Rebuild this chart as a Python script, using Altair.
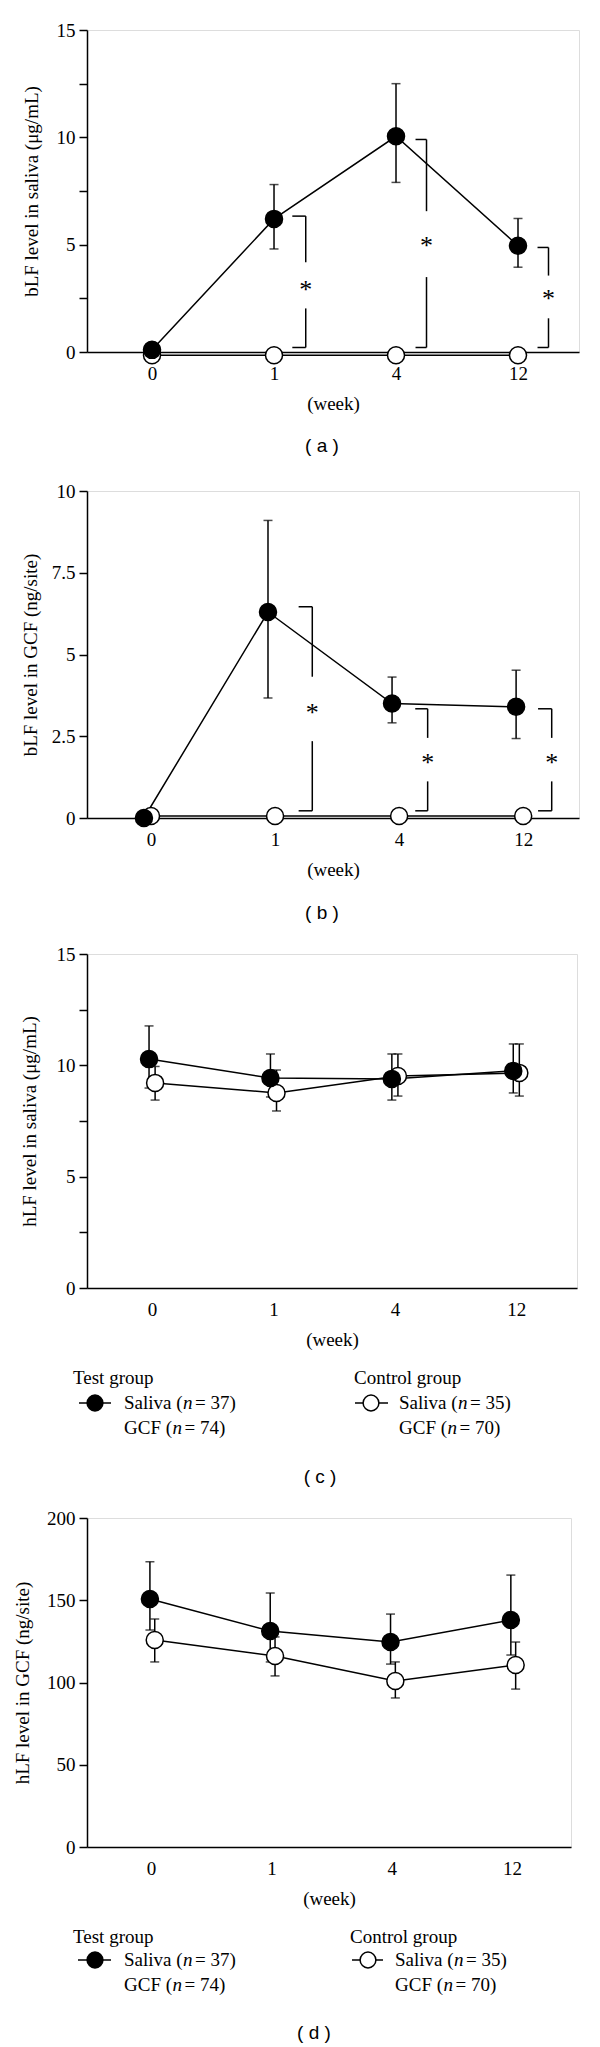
import altair as alt
import pandas as pd

# ---------------- data ----------------
weeks = ["0", "1", "4", "12"]
week_idx = [0, 1, 2, 3]

# (a) bLF level in saliva
a_test_mean = [0.1, 6.2, 10.05, 4.95]
a_test_hi = [0.1, 7.8, 12.5, 6.22]
a_test_lo = [0.1, 4.8, 7.9, 3.95]
a_ctrl_mean = [-0.15, -0.15, -0.15, -0.15]
a_ctrl_hi = [-0.15, -0.15, -0.15, -0.15]
a_ctrl_lo = [-0.15, -0.15, -0.15, -0.15]
a_br_x1 = [1.15, 2.16, 3.16]
a_br_x2 = [1.26, 2.25, 3.25]
a_br_top = [6.33, 9.9, 4.87]
a_br_bot = [0.21, 0.21, 0.21]
a_br_gap_hi = [4.18, 6.56, 3.56]
a_br_gap_lo = [2.03, 3.49, 1.57]
a_br_star = [3.10, 5.17, 2.72]

# (b) bLF level in GCF
b_test_mean = [0.0, 6.3, 3.5, 3.4]
b_test_hi = [0.0, 9.1, 4.31, 4.52]
b_test_lo = [0.0, 3.67, 2.91, 2.43]
b_ctrl_mean = [0.06, 0.06, 0.06, 0.06]
b_ctrl_hi = [0.06, 0.06, 0.06, 0.06]
b_ctrl_lo = [0.06, 0.06, 0.06, 0.06]
b_br_x1 = [1.19, 2.13, 3.12]
b_br_x2 = [1.30, 2.23, 3.23]
b_br_top = [6.46, 3.34, 3.34]
b_br_bot = [0.22, 0.22, 0.22]
b_br_gap_hi = [4.32, 2.45, 2.45]
b_br_gap_lo = [2.35, 1.12, 1.12]
b_br_star = [3.37, 1.84, 1.84]

# (c) hLF level in saliva
c_test_mean = [10.28, 9.43, 9.39, 9.75]
c_test_hi = [11.77, 10.51, 10.51, 10.96]
c_test_lo = [8.98, 8.58, 8.44, 8.76]
c_ctrl_mean = [9.21, 8.76, 9.52, 9.66]
c_ctrl_hi = [9.95, 9.79, 10.51, 10.96]
c_ctrl_lo = [8.44, 7.95, 8.62, 8.62]

# (d) hLF level in GCF
d_test_mean = [150.8, 131.3, 124.6, 138.0]
d_test_hi = [173.4, 154.4, 141.6, 165.3]
d_test_lo = [131.9, 112.5, 111.2, 116.7]
d_ctrl_mean = [125.8, 116.1, 100.9, 110.6]
d_ctrl_hi = [138.6, 127.7, 112.5, 124.6]
d_ctrl_lo = [112.5, 104.0, 90.6, 96.0]

legend_test_title = "Test group"
legend_ctrl_title = "Control group"
legend_test_lines = [("Saliva (", "n", "\u00a0=\u00a037)"), ("GCF (", "n", "\u00a0=\u00a074)")]
legend_ctrl_lines = [("Saliva (", "n", "\u00a0=\u00a035)"), ("GCF (", "n", "\u00a0=\u00a070)")]

# ---------------- style ----------------
SERIF = "Liberation Serif"
SANS = "Liberation Sans"
FS = 19
LW = 1.5
PT = 290

panels_cfg = {
    "a": dict(test=(a_test_mean, a_test_hi, a_test_lo), ctrl=(a_ctrl_mean, a_ctrl_hi, a_ctrl_lo),
              br=(a_br_x1, a_br_x2, a_br_top, a_br_bot, a_br_gap_hi, a_br_gap_lo, a_br_star),
              width=492, height=322, xdom=[-0.533, 3.5], ydom=[0, 15],
              yvals=[0, 2.5, 5, 7.5, 10, 12.5, 15], only5=True,
              title="bLF level in saliva (μg/mL)", tpad=15, toff=0.0, coff=0.0,
              caption="( a )", cap_x=235, cap_y=94, spacer=98, legend=False),
    "b": dict(test=(b_test_mean, b_test_hi, b_test_lo), ctrl=(b_ctrl_mean, b_ctrl_hi, b_ctrl_lo),
              br=(b_br_x1, b_br_x2, b_br_top, b_br_bot, b_br_gap_hi, b_br_gap_lo, b_br_star),
              width=492, height=327, xdom=[-0.516, 3.45], ydom=[0, 10],
              yvals=[0, 2.5, 5, 7.5, 10], only5=False,
              title="bLF level in GCF (ng/site)", tpad=11, toff=-0.057, coff=0.0,
              caption="( b )", cap_x=235, cap_y=95, spacer=None, legend=False),
    "c": dict(test=(c_test_mean, c_test_hi, c_test_lo), ctrl=(c_ctrl_mean, c_ctrl_hi, c_ctrl_lo),
              br=None,
              width=490, height=334, xdom=[-0.536, 3.5], ydom=[0, 15],
              yvals=[0, 2.5, 5, 7.5, 10, 12.5, 15], only5=True,
              title="hLF level in saliva (μg/mL)", tpad=17, toff=-0.025, coff=0.025,
              caption="( c )", cap_x=233, cap_y=189, spacer=None, legend=True,
              leg=dict(tx=-14, sx0=-8, sx1=24, sc=8, lx=37, cx=267, csx0=268, csx1=301, csc=284, clx=312,
                       y0=90, y1=115, y2=140)),
    "d": dict(test=(d_test_mean, d_test_hi, d_test_lo), ctrl=(d_ctrl_mean, d_ctrl_hi, d_ctrl_lo),
              br=None,
              width=484, height=329, xdom=[-0.533, 3.49], ydom=[0, 200],
              yvals=[0, 50, 100, 150, 200], only5=False,
              title="hLF level in GCF (ng/site)", tpad=14, toff=-0.01, coff=0.03,
              caption="( d )", cap_x=227, cap_y=186, spacer=None, legend=True,
              leg=dict(tx=-14, sx0=-9, sx1=24, sc=8, lx=37, cx=263, csx0=265, csx1=296, csc=281, clx=308,
                       y0=90, y1=113, y2=138)),
}

x_label_expr = "[" + ",".join("'%s'" % w for w in weeks) + "][datum.value]"


def text_layer(txt, x, y, font=SERIF, size=FS, align="left", style="normal", opacity=1):
    return alt.Chart(pd.DataFrame({"t": [txt]})).mark_text(
        font=font, fontSize=size, align=align, baseline="middle", fontStyle=style,
        color="black", opacity=opacity
    ).encode(x=alt.value(x), y=alt.value(y), text="t:N")


def make_panel(cfg):
    w, h = cfg["width"], cfg["height"]
    rows = []
    for grp, (m, hi, lo), off in (("ctrl", cfg["ctrl"], cfg["coff"]), ("test", cfg["test"], cfg["toff"])):
        for i in range(4):
            rows.append(dict(group=grp, xi=week_idx[i] + off, mean=m[i], hi=hi[i], lo=lo[i]))
    df = pd.DataFrame(rows)

    xs = alt.Scale(domain=cfg["xdom"], nice=False, zero=False)
    ys = alt.Scale(domain=cfg["ydom"], nice=False, zero=False)
    if cfg["only5"]:
        lexpr = "datum.value % 5 === 0 ? format(datum.value, '~g') : ''"
    else:
        lexpr = "format(datum.value, '~g')"
    xaxis = alt.Axis(values=week_idx, labelExpr=x_label_expr, ticks=False, tickSize=0, grid=False,
                     domainColor="black", domainWidth=LW, labelFont=SERIF, labelFontSize=FS,
                     labelColor="black", labelPadding=12, labelAngle=0,
                     title="(week)", titleFont=SERIF, titleFontSize=FS, titleFontWeight="normal",
                     titleColor="black", titlePadding=11)
    yaxis = alt.Axis(values=cfg["yvals"], labelExpr=lexpr, tickSize=8, tickColor="black", tickWidth=LW,
                     grid=False, domainColor="black", domainWidth=LW, labelFont=SERIF, labelFontSize=FS,
                     labelColor="black", labelPadding=4,
                     title=cfg["title"], titleFont=SERIF, titleFontSize=FS, titleFontWeight="normal",
                     titleColor="black", titlePadding=cfg["tpad"])

    def X(field):
        return alt.X(field, type="quantitative", scale=xs, axis=xaxis)

    def Y(field):
        return alt.Y(field, type="quantitative", scale=ys, axis=yaxis)

    base = alt.Chart(df)
    layers = []
    layers.append(base.mark_line(color="black", strokeWidth=LW).encode(
        x=X("xi"), y=Y("mean"), detail="group:N"))
    layers.append(base.mark_rule(color="black", strokeWidth=LW).encode(
        x=X("xi"), y=Y("lo"), y2="hi"))
    layers.append(base.mark_tick(color="black", orient="horizontal", size=9, thickness=LW).encode(
        x=X("xi"), y=Y("hi")))
    layers.append(base.mark_tick(color="black", orient="horizontal", size=9, thickness=LW).encode(
        x=X("xi"), y=Y("lo")))
    layers.append(base.transform_filter("datum.group == 'ctrl'").mark_point(
        shape="circle", filled=True, fill="white", stroke="black", strokeWidth=LW, size=PT, opacity=1
    ).encode(x=X("xi"), y=Y("mean")))
    layers.append(base.transform_filter("datum.group == 'test'").mark_point(
        shape="circle", filled=True, fill="black", stroke="black", strokeWidth=LW, size=PT, opacity=1
    ).encode(x=X("xi"), y=Y("mean")))

    if cfg["br"] is not None:
        x1, x2, top, bot, ghi, glo, star = cfg["br"]
        bdf = pd.DataFrame(dict(x1=x1, x2=x2, top=top, bot=bot, ghi=ghi, glo=glo, star=star,
                                s=["*"] * len(x1)))
        bb = alt.Chart(bdf)
        layers.append(bb.mark_rule(color="black", strokeWidth=LW).encode(x=X("x1"), x2="x2", y=Y("top")))
        layers.append(bb.mark_rule(color="black", strokeWidth=LW).encode(x=X("x1"), x2="x2", y=Y("bot")))
        layers.append(bb.mark_rule(color="black", strokeWidth=LW).encode(x=X("x2"), y=Y("ghi"), y2="top"))
        layers.append(bb.mark_rule(color="black", strokeWidth=LW).encode(x=X("x2"), y=Y("bot"), y2="glo"))
        layers.append(bb.mark_text(font=SERIF, fontSize=26, color="black", baseline="middle",
                                   align="center", dy=5).encode(x=X("x2"), y=Y("star"), text="s:N"))

    if cfg["legend"]:
        L = cfg["leg"]
        layers.append(text_layer(legend_test_title, L["tx"], h + L["y0"]))
        layers.append(text_layer(legend_ctrl_title, L["cx"], h + L["y0"]))
        for (s0, s1, sc, grp_fill, lines, lx) in (
                (L["sx0"], L["sx1"], L["sc"], "black", legend_test_lines, L["lx"]),
                (L["csx0"], L["csx1"], L["csc"], "white", legend_ctrl_lines, L["clx"])):
            sd = pd.DataFrame({"k": [0]})
            layers.append(alt.Chart(sd).mark_rule(color="black", strokeWidth=LW).encode(
                x=alt.value(s0), x2=alt.value(s1), y=alt.value(h + L["y1"])))
            layers.append(alt.Chart(sd).mark_point(shape="circle", filled=True, fill=grp_fill, stroke="black",
                                                   strokeWidth=LW, size=250, opacity=1).encode(
                x=alt.value(sc), y=alt.value(h + L["y1"])))
            for j, (p0, pn, p1) in enumerate(lines):
                yy = h + (L["y1"] if j == 0 else L["y2"])
                w0 = 59 if p0.startswith("Saliva") else 48.5
                layers.append(text_layer(p0, lx, yy))
                layers.append(text_layer(pn, lx + w0, yy, style="italic"))
                layers.append(text_layer(p1, lx + w0 + 12, yy))

    layers.append(text_layer(cfg["caption"], cfg["cap_x"], h + cfg["cap_y"], font=SANS, size=19,
                             align="center"))
    if cfg["spacer"] is not None:
        layers.append(text_layer(".", cfg["cap_x"], h + cfg["spacer"], opacity=0))

    return alt.layer(*layers).properties(width=w, height=h)


panels = [make_panel(panels_cfg[k]) for k in ["a", "b", "c", "d"]]

chart = alt.concat(*panels, columns=1, spacing=20, align="none", bounds="full").properties(
    padding={"left": 5, "top": 12, "right": 5, "bottom": 5}
).configure_view(stroke=None).configure(font=SERIF, background="white")

chart.save("out.html", embed_options={"renderer": "svg", "actions": False})
